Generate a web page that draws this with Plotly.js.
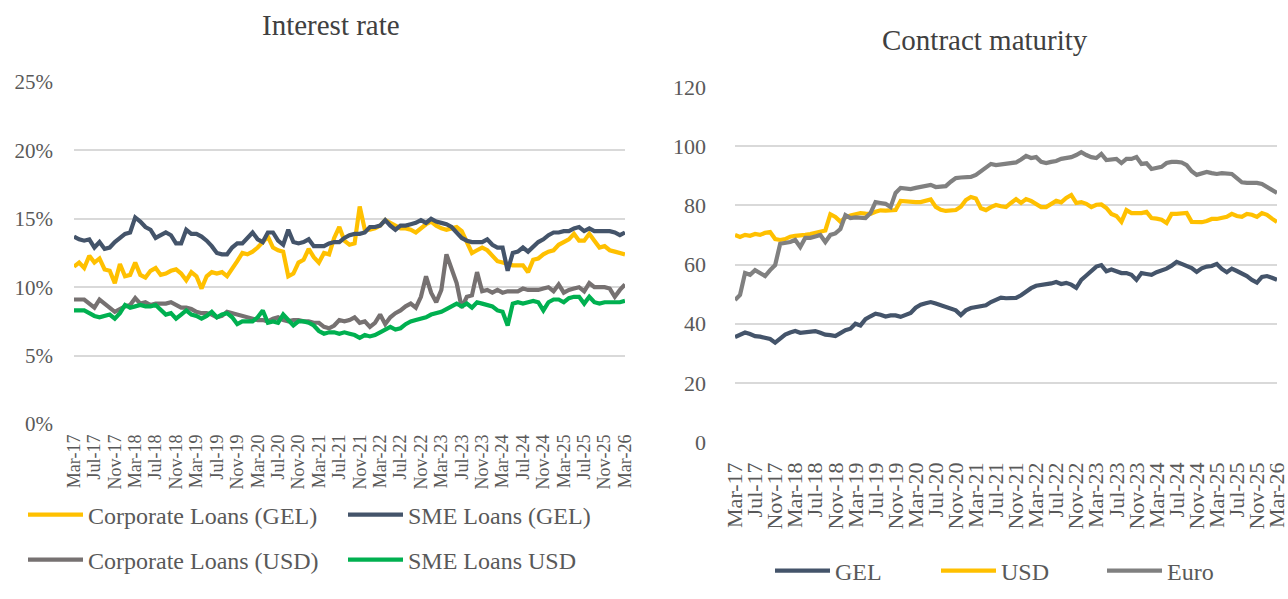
<!DOCTYPE html>
<html>
<head>
<meta charset="utf-8">
<script src="https://cdn.plot.ly/plotly-3.0.1.min.js"></script>
<style>
  html, body { margin: 0; padding: 0; background: #ffffff; }
  #chart { width: 1288px; height: 599px; }
</style>
</head>
<body>
<div id="chart"></div>
<script>
// Month categories, Mar-17 .. Mar-26
const monthNames = ['Jan','Feb','Mar','Apr','May','Jun','Jul','Aug','Sep','Oct','Nov','Dec'];
const months = [];
for (let k = 0; k < 109; k++) {
  const m = (2 + k) % 12;
  const yr = 17 + Math.floor((2 + k) / 12);
  months.push(monthNames[m] + '-' + yr);
}

// Interest rate (%)
const corporateGEL = [
  11.5, 11.8, 11.4, 12.3, 11.8, 12.1, 11.3, 11.2, 10.3, 11.7,
  10.8, 10.9, 11.8, 10.9, 10.7, 11.2, 11.4, 10.9, 11.0, 11.2,
  11.3, 11.0, 10.5, 11.1, 10.8, 9.9, 10.8, 11.1, 11.0, 11.1,
  10.8, 11.3, 11.9, 12.5, 12.4, 12.6, 12.9, 13.3, 13.7, 12.9,
  12.7, 12.6, 10.8, 11.0, 11.8, 12.0, 12.8, 12.2, 11.8, 12.5,
  12.4, 13.6, 14.4, 13.4, 13.1, 13.2, 15.9, 14.2, 14.2, 14.3,
  14.5, 14.9, 14.7, 14.5, 14.3, 14.3, 14.2, 14.0, 14.3, 14.6,
  14.8, 14.5, 14.3, 14.2, 14.3, 14.4, 14.1, 13.2, 12.5, 12.7,
  12.9, 12.7, 12.3, 11.9, 11.8, 11.7, 11.6, 11.6, 11.6, 11.1,
  12.0, 12.1, 12.4, 12.6, 12.7, 13.1, 13.3, 13.5, 13.9, 13.4,
  13.4, 13.9, 13.4, 12.9, 13.0, 12.7, 12.6, 12.5, 12.4
];
const smeGEL = [
  13.7, 13.5, 13.4, 13.5, 12.9, 13.3, 12.8, 12.9, 13.3, 13.6,
  13.9, 14.0, 15.1, 14.8, 14.4, 14.2, 13.6, 13.8, 14.0, 13.8,
  13.2, 13.2, 14.2, 13.9, 13.9, 13.7, 13.4, 13.0, 12.5, 12.4,
  12.4, 12.9, 13.2, 13.2, 13.6, 14.0, 13.5, 13.3, 14.0, 14.0,
  13.4, 13.1, 14.2, 13.3, 13.2, 13.3, 13.5, 13.0, 13.0, 13.0,
  13.2, 13.3, 13.3, 13.6, 13.8, 13.9, 13.9, 14.0, 14.4, 14.4,
  14.5, 14.9, 14.5, 14.2, 14.5, 14.5, 14.6, 14.7, 14.9, 14.7,
  15.0, 14.8, 14.7, 14.6, 14.4, 14.0, 13.6, 13.4, 13.3, 13.3,
  13.3, 13.5, 13.1, 12.9, 12.9, 11.2, 12.5, 12.6, 12.9, 12.6,
  13.0, 13.3, 13.5, 13.8, 14.0, 14.0, 14.1, 14.1, 14.3, 14.4,
  14.1, 14.3, 14.1, 14.1, 14.1, 14.1, 14.0, 13.8, 14.0
];
const corporateUSD = [
  9.1, 9.1, 9.1, 8.8, 8.5, 9.1, 8.8, 8.5, 8.2, 8.4,
  8.6, 8.7, 9.2, 8.8, 8.9, 8.7, 8.8, 8.8, 8.8, 8.9,
  8.7, 8.5, 8.5, 8.4, 8.2, 8.1, 8.1, 8.0, 7.8, 7.9,
  8.2, 8.1, 8.0, 7.9, 7.8, 7.7, 7.6, 7.6, 7.5, 7.7,
  7.8, 7.6, 7.5, 7.6, 7.6, 7.5, 7.5, 7.4, 7.4, 7.1,
  7.0, 7.2, 7.6, 7.5, 7.6, 7.8, 7.4, 7.5, 7.1, 7.4,
  8.0, 7.3, 7.8, 8.1, 8.3, 8.6, 8.8, 8.5, 9.3, 10.8,
  9.6, 8.9, 9.8, 12.4, 11.3, 10.3, 8.5, 9.3, 9.4, 11.1,
  9.7, 9.8, 9.6, 9.8, 9.6, 9.7, 9.7, 9.7, 9.9, 9.8,
  9.8, 9.8, 9.9, 10.0, 9.7, 10.2, 9.6, 9.8, 9.9, 10.0,
  9.7, 10.3, 10.0, 10.0, 10.0, 9.9, 9.3, 9.8, 10.2
];
const smeUSD = [
  8.3, 8.3, 8.3, 8.1, 7.9, 7.8, 7.9, 8.0, 7.7, 8.1,
  8.7, 8.5, 8.6, 8.7, 8.6, 8.6, 8.7, 8.3, 8.0, 8.1,
  7.7, 8.0, 8.3, 8.0, 7.9, 7.7, 7.9, 8.2, 7.8, 8.0,
  8.1, 7.8, 7.3, 7.5, 7.5, 7.5, 7.8, 8.3, 7.4, 7.5,
  7.4, 8.0, 7.6, 7.2, 7.5, 7.5, 7.4, 7.2, 6.8, 6.6,
  6.7, 6.7, 6.6, 6.7, 6.6, 6.5, 6.3, 6.5, 6.4, 6.5,
  6.7, 6.9, 7.1, 6.9, 7.0, 7.3, 7.5, 7.6, 7.7, 7.8,
  8.0, 8.1, 8.2, 8.4, 8.6, 8.8, 8.6, 8.8, 8.5, 8.9,
  8.8, 8.7, 8.6, 8.3, 8.2, 7.2, 8.8, 8.9, 8.8, 8.9,
  9.0, 8.9, 8.3, 8.9, 9.1, 9.1, 8.9, 9.2, 9.3, 9.3,
  8.8, 9.3, 8.9, 8.8, 8.9, 8.9, 8.9, 8.9, 9.0
];

// Contract maturity (months)
const maturityGEL = [
  35.5, 36.2, 37.0, 36.5, 35.8, 35.6, 35.3, 34.8, 33.6, 34.8,
  36.3, 37.0, 37.5, 36.9, 37.2, 37.2, 37.5, 36.9, 36.3, 36.1,
  35.8, 36.8, 37.8, 38.3, 40.0, 39.4, 41.5, 42.5, 43.4, 43.0,
  42.4, 42.8, 42.8, 42.3, 43.0, 43.6, 45.4, 46.4, 46.9, 47.3,
  46.8, 46.2, 45.6, 45.0, 44.5, 42.9, 44.5, 45.3, 45.5, 45.7,
  46.2, 47.3, 48.1, 48.8, 48.6, 48.7, 48.7, 49.6, 51.0, 52.0,
  52.8, 53.1, 53.1, 53.6, 54.1, 53.4, 53.8, 53.2, 52.1, 54.8,
  56.3, 58.0, 59.3, 59.8, 57.7, 58.3, 57.6, 57.1, 57.1, 56.5,
  54.8, 57.1, 56.8, 56.5, 57.4, 58.0, 58.6, 59.6, 60.9, 60.2,
  59.4, 58.8, 57.5, 58.7, 59.3, 59.5, 60.2, 58.5, 57.4, 58.6,
  57.8, 57.1, 56.1, 54.8, 53.9, 55.8, 56.1, 55.5, 54.8
];
const maturityUSD = [
  70.0, 69.3, 70.0, 69.7, 70.3, 70.0, 70.7, 71.0, 68.6, 68.3,
  68.6, 69.4, 69.7, 69.7, 70.0, 70.3, 70.7, 70.8, 71.5, 77.0,
  76.1, 74.5, 75.9, 76.6, 77.1, 77.4, 77.2, 77.1, 77.8, 78.3,
  78.2, 78.2, 78.4, 81.5, 81.3, 81.1, 81.1, 81.1, 81.5, 82.0,
  79.5, 78.5, 78.1, 78.1, 78.4, 79.5, 81.8, 82.8, 82.3, 79.0,
  78.4, 79.4, 80.1, 79.7, 79.4, 80.8, 82.1, 80.8, 82.1, 81.5,
  80.5, 79.4, 79.4, 80.5, 81.5, 81.0, 82.5, 83.5, 80.8, 81.1,
  80.5, 79.4, 80.2, 80.3, 79.1, 77.1, 76.4, 74.4, 78.4, 77.4,
  77.4, 77.4, 77.8, 75.7, 75.5, 75.1, 74.0, 77.1, 77.1, 77.2,
  77.4, 74.4, 74.2, 74.3, 74.7, 75.4, 75.4, 75.6, 76.1, 77.1,
  76.4, 76.1, 77.1, 76.8, 76.1, 77.4, 76.8, 75.5, 74.4
];
const maturityEuro = [
  48.0, 49.7, 57.1, 56.5, 58.1, 57.1, 56.1, 58.1, 59.8, 67.0,
  67.3, 67.6, 68.3, 65.9, 69.0, 69.0, 69.5, 70.0, 67.6, 70.0,
  70.5, 72.0, 76.7, 75.7, 75.9, 75.9, 75.7, 77.4, 81.1, 80.8,
  80.5, 79.4, 84.2, 85.9, 85.7, 85.5, 85.9, 86.2, 86.5, 86.9,
  86.2, 86.2, 86.5, 88.0, 89.2, 89.4, 89.6, 89.6, 90.3, 91.5,
  92.5, 94.0, 93.6, 93.8, 94.0, 94.3, 94.5, 95.5, 96.7, 96.0,
  96.3, 94.7, 94.3, 94.7, 95.0, 95.7, 96.0, 96.3, 97.0, 98.0,
  97.0, 96.3, 96.0, 97.4, 95.3, 95.5, 95.7, 94.3, 95.7, 95.7,
  96.3, 94.0, 94.2, 92.3, 92.8, 93.0, 94.3, 94.7, 94.7, 94.5,
  93.6, 91.5, 90.3, 90.8, 91.3, 90.9, 90.6, 90.9, 90.8, 90.6,
  89.2, 87.8, 87.6, 87.6, 87.6, 87.2, 86.2, 85.0, 84.2
];

const FONT = 'Liberation Serif, Times New Roman, serif';
const W = 1288, H = 599;
const px = v => v / W;
const py = v => (H - v) / H;

function line(name, y, color, xa, ya, legend) {
  return {
    type: 'scatter', mode: 'lines', name: name,
    x: months, y: y, xaxis: xa, yaxis: ya, legend: legend,
    line: { color: color, width: 4.2 },
    hoverinfo: 'x+y+name'
  };
}

const data = [
  line('Corporate Loans (GEL)', corporateGEL, '#FFC000', 'x', 'y', 'legend'),
  line('SME Loans (GEL)', smeGEL, '#44546A', 'x', 'y', 'legend'),
  line('Corporate Loans (USD)', corporateUSD, '#767171', 'x', 'y', 'legend2'),
  line('SME Loans USD', smeUSD, '#00B050', 'x', 'y', 'legend2'),
  line('GEL', maturityGEL, '#44546A', 'x2', 'y2', 'legend3'),
  line('USD', maturityUSD, '#FFC000', 'x2', 'y2', 'legend3'),
  line('Euro', maturityEuro, '#808080', 'x2', 'y2', 'legend3')
];

const xCommon = {
  type: 'category', range: [0, 108], dtick: 4, tick0: 0,
  tickangle: -90, showgrid: false, zeroline: false, showline: false,
  ticks: '', tickfont: { family: FONT, color: '#595959' }
};
const yCommon = {
  showgrid: true, gridcolor: '#D9D9D9', gridwidth: 2, zeroline: false,
  showline: false, ticks: '', tickfont: { family: FONT, color: '#595959' }
};

const legendCommon = {
  orientation: 'h', xanchor: 'left', yanchor: 'middle',
  font: { family: FONT, color: '#595959', size: 24 },
  itemwidth: 55, entrywidthmode: 'pixels', bgcolor: 'rgba(0,0,0,0)',
  itemclick: false, itemdoubleclick: false
};

const layout = {
  width: W, height: H,
  margin: { l: 0, r: 0, t: 0, b: 0 },
  paper_bgcolor: '#ffffff', plot_bgcolor: '#ffffff',
  showlegend: true,
  xaxis: Object.assign({}, xCommon, {
    domain: [px(74), px(625)], anchor: 'y',
    tickfont: { family: FONT, color: '#595959', size: 18 },
    ticklabelstandoff: 6
  }),
  yaxis: Object.assign({}, yCommon, {
    domain: [py(424), py(82)], anchor: 'x', range: [0, 25], dtick: 5,
    ticksuffix: '%', tickfont: { family: FONT, color: '#595959', size: 21 },
    ticklabelstandoff: 20
  }),
  xaxis2: Object.assign({}, xCommon, {
    domain: [px(735), px(1277)], anchor: 'y2',
    tickfont: { family: FONT, color: '#595959', size: 22 },
    ticklabelstandoff: 15
  }),
  yaxis2: Object.assign({}, yCommon, {
    domain: [py(442), py(87)], anchor: 'x2', range: [0, 120], dtick: 20,
    tickfont: { family: FONT, color: '#595959', size: 22 },
    ticklabelstandoff: 28
  }),
  legend: Object.assign({}, legendCommon, { x: px(23), y: py(515), entrywidth: 250 }),
  legend2: Object.assign({}, legendCommon, { x: px(23), y: py(560), entrywidth: 250 }),
  legend3: Object.assign({}, legendCommon, { x: px(770), y: py(571), entrywidth: 96 }),
  annotations: [
    { text: 'Interest rate', xref: 'paper', yref: 'paper', x: px(331), y: py(25),
      xanchor: 'center', yanchor: 'middle', showarrow: false,
      font: { family: FONT, size: 29, color: '#404040' } },
    { text: 'Contract maturity', xref: 'paper', yref: 'paper', x: px(985), y: py(40),
      xanchor: 'center', yanchor: 'middle', showarrow: false,
      font: { family: FONT, size: 29, color: '#404040' } }
  ]
};

Plotly.newPlot('chart', data, layout, { displayModeBar: false, staticPlot: false });
</script>
</body>
</html>
